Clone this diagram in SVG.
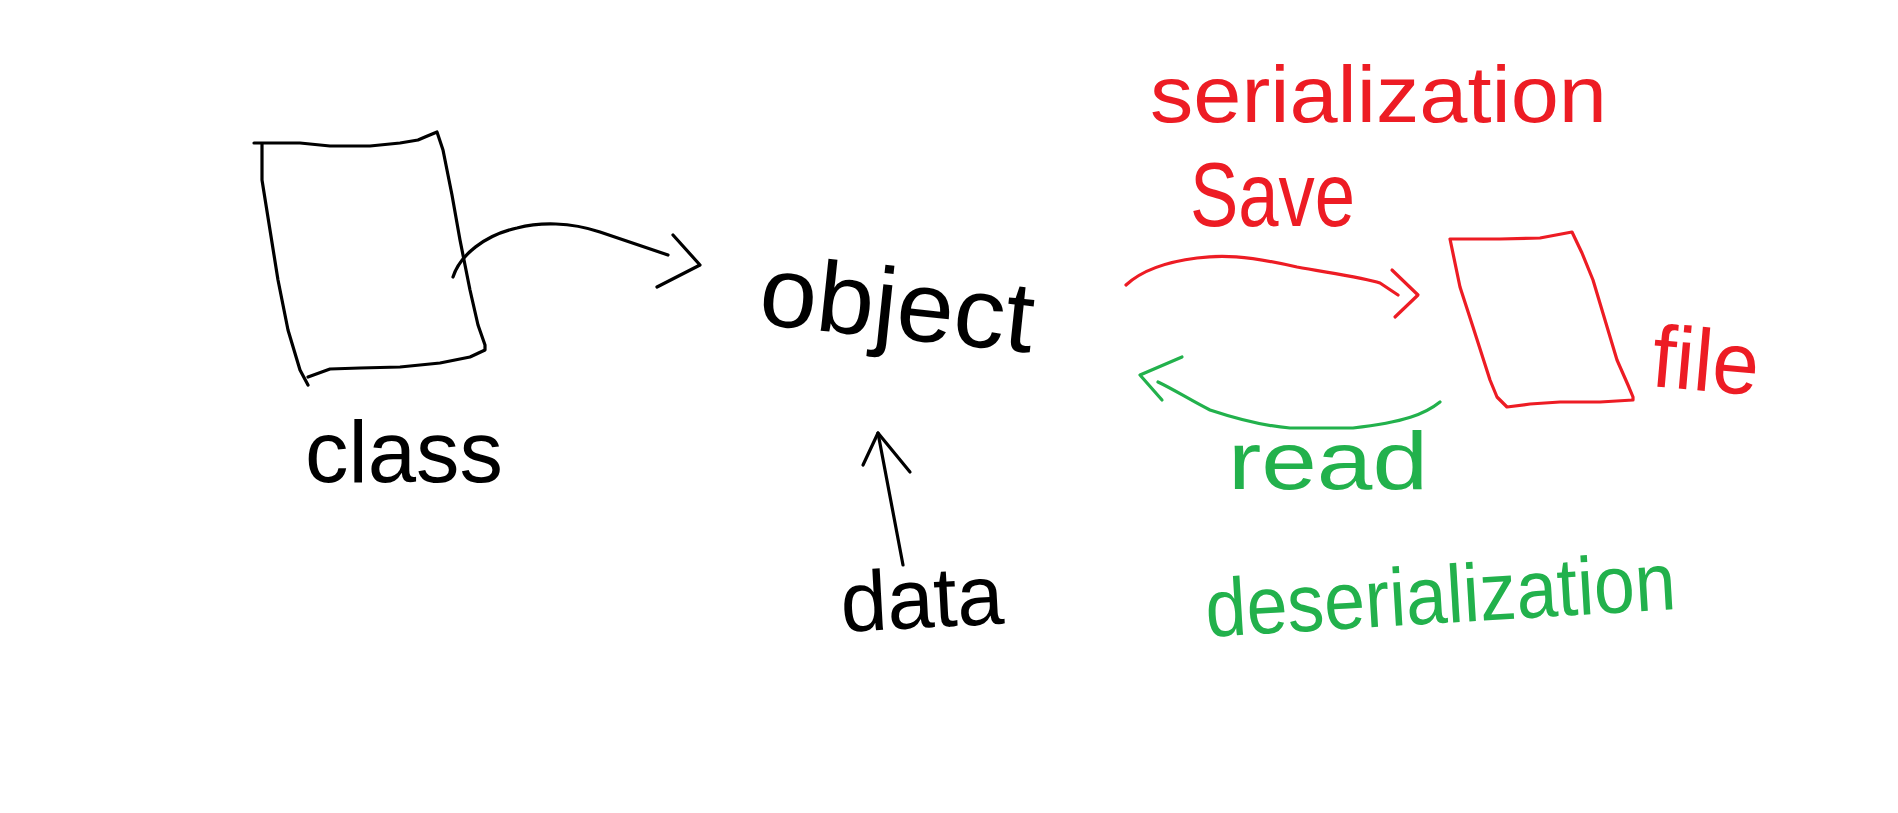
<svg xmlns="http://www.w3.org/2000/svg" width="1898" height="813" viewBox="0 0 1898 813">
<style>
.ink{fill:none;stroke-width:3.2;stroke-linecap:round;stroke-linejoin:round}
.k{stroke:#000}
.r{stroke:#ed1c24}
.g{stroke:#22b14c}
.t{font-family:"Liberation Sans",Arial,sans-serif;font-weight:normal}
.tk{fill:#000}
.tr{fill:#ed1c24}
.tg{fill:#22b14c}
</style>
<rect width="1898" height="813" fill="#fff"/>
<g id="class">
<path class="ink k" d="M254,143 L300,143 L330,146 L370,146 L400,143 L418,140 L425,137 L437,132 L443,150 L452,195 L460,240 L470,290 L478,325 L485,345 L485,350 L470,357 L440,363 L400,367 L360,368 L330,369 L308,377 M262,143 L262,180 L270,230 L278,280 L288,330 L300,370 L308,385"/>
<text class="t tk" x="305" y="482" font-size="88" textLength="198" lengthAdjust="spacingAndGlyphs">class</text>
</g>
<g id="object">
<text class="t tk" x="757" y="324" font-size="100" textLength="275" lengthAdjust="spacingAndGlyphs" transform="rotate(6 757 324)">object</text>
</g>
<g id="data">
<text class="t tk" x="842" y="632" font-size="85" textLength="163" lengthAdjust="spacingAndGlyphs" transform="rotate(-3 842 632)">data</text>
</g>
<g id="file">
<path class="ink r" d="M1450,239 L1500,239 L1540,238 L1572,232 L1582,253 L1593,280 L1605,320 L1617,360 L1628,385 L1633,397 L1633,400 L1600,402 L1560,402 L1530,404 L1507,407 L1497,397 L1490,380 L1473,327 L1460,287 Z"/>
<text class="t tr" x="1650" y="386" font-size="88" textLength="107" lengthAdjust="spacingAndGlyphs" transform="rotate(5 1650 386)">file</text>
</g>
<g id="connectors">
<path class="ink k" d="M453,277 C460,255 485,235 517,228 C540,222 570,222 600,232 L668,255"/>
<polyline class="ink k" points="673,235 700,265 657,287"/>
<path class="ink k" d="M903,565 L878,433"/>
<polyline class="ink k" points="863,465 878,433 910,472"/>
<path class="ink r" d="M1126,285 C1140,272 1165,262 1197,258 C1220,255 1245,255 1297,267 C1330,273 1365,278 1380,283 L1398,295"/>
<polyline class="ink r" points="1392,270 1418,295 1395,317"/>
<path class="ink g" d="M1440,402 C1425,414 1405,422 1353,428 L1290,428 C1265,426 1240,420 1210,410 C1190,400 1175,390 1158,382"/>
<polyline class="ink g" points="1182,357 1140,375 1162,400"/>
<text class="t tr" x="1150" y="122" font-size="80" textLength="457" lengthAdjust="spacingAndGlyphs">serialization</text>
<text class="t tr" x="1190" y="226" font-size="90" textLength="165" lengthAdjust="spacingAndGlyphs">Save</text>
<text class="t tg" x="1228" y="489" font-size="82" textLength="200" lengthAdjust="spacingAndGlyphs">read</text>
<text class="t tg" x="1207" y="637" font-size="82" textLength="471" lengthAdjust="spacingAndGlyphs" transform="rotate(-3.4 1207 637)">deserialization</text>
</g>
</svg>
